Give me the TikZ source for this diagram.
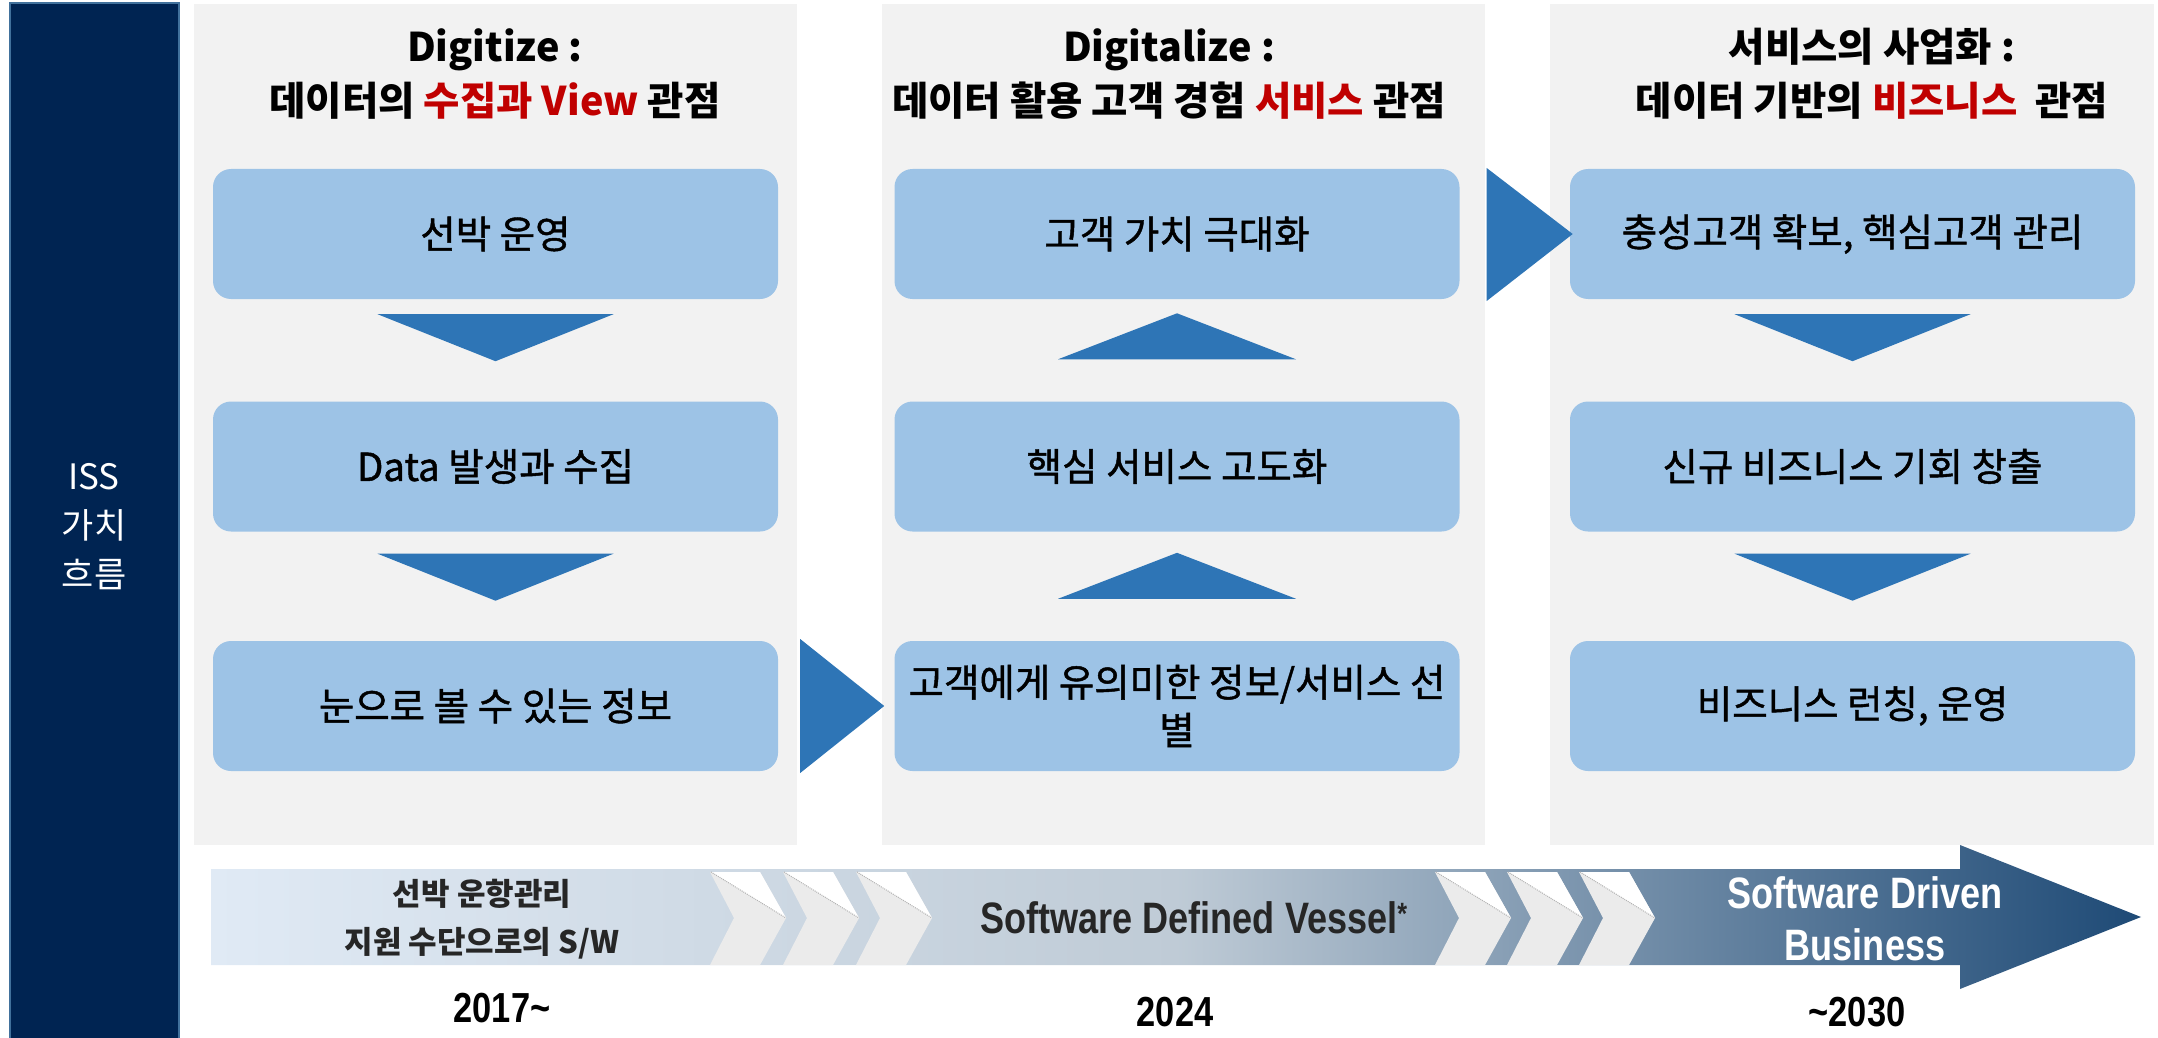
\documentclass[tikz,border=0pt]{standalone}
\usepackage{fontspec}
\setmainfont{Noto Sans CJK KR}
\newfontfamily\boxfont[FakeBold=1.2]{Noto Sans CJK KR}
\newfontfamily\narrowfont[FakeStretch=0.82]{Liberation Sans}
\usetikzlibrary{calc}

\definecolor{navy}{HTML}{002452}
\definecolor{navyline}{HTML}{41719C}
\definecolor{panelgray}{HTML}{F2F2F2}
\definecolor{boxblue}{HTML}{9DC3E6}
\definecolor{triblue}{HTML}{2E75B6}
\definecolor{hired}{HTML}{C00000}
\definecolor{darktext}{HTML}{262626}
\definecolor{arrowleft}{HTML}{E0EAF5}
\definecolor{arrowmid}{HTML}{BFCBD6}
\definecolor{arrowright}{HTML}{1E4A76}
\definecolor{chevgray}{HTML}{EBEBEB}

\begin{document}
\begin{tikzpicture}[x=1pt, y=-1pt,
    panel/.style={fill=panelgray},
    box/.style={fill=boxblue, rounded corners=18pt, minimum width=565pt, minimum height=130pt,
        align=center, font=\boxfont\fontsize{38.5}{48}\selectfont},
    head/.style={align=center, font=\bfseries\fontsize{39.5}{54}\selectfont},
    tri/.style={fill=triblue},
    lbl/.style={align=center, text=darktext, font=\bfseries\fontsize{31}{48}\selectfont},
    eng/.style={align=center, font=\narrowfont\bfseries\fontsize{44}{52}\selectfont},
    year/.style={font=\narrowfont\bfseries\fontsize{42}{50}\selectfont}
]
\useasboundingbox (0,0) rectangle (2158,1038);

% Side bar
\draw[fill=navy, draw=navyline, line width=2pt] (10,3) rectangle (179,1040);
\node[align=center, text=white, font=\fontsize{35}{49}\selectfont] (iss) at (94,527) {ISS\\가치\\흐름};

% Panels
\fill[panel] (194,4) rectangle (797,845);
\fill[panel] (882,4) rectangle (1485,845);
\fill[panel] (1550,4) rectangle (2154,845);

% Headers
\node[head] (h1) at (495,74) {Digitize :\\데이터의 \textcolor{hired}{수집과 View} 관점};
\node[head] (h2) at (1169,74) {Digitalize :\\데이터 활용 고객 경험 \textcolor{hired}{서비스} 관점};
\node[head] (h3) at (1872,74) {서비스의 사업화 :\\데이터 기반의 \textcolor{hired}{비즈니스}\ \ 관점};

% Boxes
\node[box] (a1) at (495.5,234) {선박 운영};
\node[box] (a2) at (495.5,466.5) {Data 발생과 수집};
\node[box] (a3) at (495.5,706) {눈으로 볼 수 있는 정보};
\node[box] (b1) at (1177,234) {고객 가치 극대화};
\node[box] (b2) at (1177,466.5) {핵심 서비스 고도화};
\node[box] (b3) at (1177,706) {고객에게 유의미한 정보/서비스 선\\별};
\node[box] (c1) at (1852.5,234) {충성고객 확보, 핵심고객 관리};
\node[box] (c2) at (1852.5,466.5) {신규 비즈니스 기회 창출};
\node[box] (c3) at (1852.5,706) {비즈니스 런칭, 운영};

% Triangles
\foreach \n/\d in {a1/15, a2/22, c1/15, c2/22}
  \fill[tri] ($(\n.south)+(-118,\d)$) -- ($(\n.south)+(118,\d)$) -- ($(\n.south)+(0,\d+47)$) -- cycle;
\foreach \n/\d in {b2/42, b3/42}
  \fill[tri] ($(\n.north)+(-119,-\d)$) -- ($(\n.north)+(119,-\d)$) -- ($(\n.north)+(0,-\d-46)$) -- cycle;
\fill[tri] ($(a3.east)+(22,-67)$) -- ($(a3.east)+(22,67)$) -- ($(a3.east)+(106,0)$) -- cycle;
\fill[tri] ($(b1.east)+(27,-66)$) -- ($(b1.east)+(27,67)$) -- ($(b1.east)+(113,0)$) -- cycle;

% Timeline arrow
\path[left color=arrowleft, right color=arrowright, middle color=arrowmid]
  (211,869) -- (1960,869) -- (1960,845) -- (2141,917) -- (1960,989) -- (1960,965) -- (211,965) -- cycle;
\foreach \cx in {710,783,856,1435,1507,1579} {
  \fill[chevgray] (\cx,872) -- (\cx+50,872) -- (\cx+76,918) -- (\cx+50,965) -- (\cx,965) -- (\cx+24,918) -- cycle;
  \fill[white] (\cx+1,872) -- (\cx+50,872) -- (\cx+76,918) -- cycle;
  \draw[gray!60, line width=1pt, densely dotted] (\cx+1,872) -- (\cx+76,918);
}
\node[lbl] (t1) at (482,919) {선박 운항관리\\지원 수단으로의 S/W};
\node[eng, text=darktext] (t2) at (1194,918) {Software Defined Vessel\textsuperscript{*}};
\node[eng, text=white] (t3) at (1865,919) {Software Driven\\Business};

% Years
\node[year] (y1) at (502,1008) {2017\textasciitilde};
\node[year] (y2) at (1175,1012) {2024};
\node[year] (y3) at (1857,1012) {\textasciitilde 2030};

\end{tikzpicture}
\end{document}
